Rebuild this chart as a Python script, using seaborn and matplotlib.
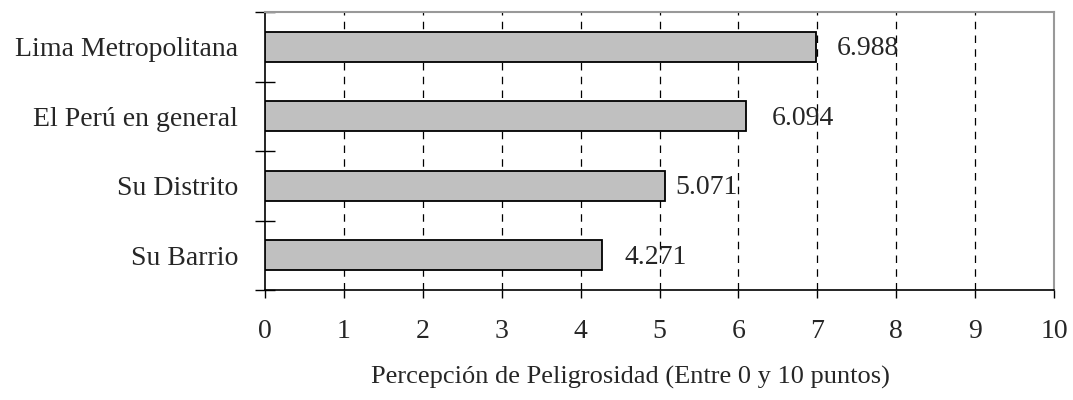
import matplotlib
matplotlib.use("Agg")
import matplotlib.pyplot as plt
import seaborn as sns
import pandas as pd
import numpy as np

categories = ["Lima Metropolitana", "El Perú en general", "Su Distrito", "Su Barrio"]
values = [6.988, 6.094, 5.071, 4.271]
value_labels = ["6.988", "6.094", "5.071", "4.271"]
label_offsets = [14.5, 19, 7, 16]  # points, style
x_ticks = list(range(0, 11))
x_label = "Percepción de Peligrosidad (Entre 0 y 10 puntos)"

sns.set_theme(style="white")
plt.rcParams["font.family"] = ["Liberation Serif", "DejaVu Serif"]
plt.rcParams["font.size"] = 20

df = pd.DataFrame({"cat": categories, "val": values})

fig = plt.figure(figsize=(10.73, 4.0), dpi=100)
ax = fig.add_axes([265/1073, 1-290/400, (1054-265)/1073, (290-12)/400])

sns.barplot(data=df, y="cat", x="val", order=categories, orient="h",
            color="#C0C0C0", edgecolor="black", linewidth=1.3, width=0.43,
            saturation=1, ax=ax, zorder=3)

ax.set_xlim(0, 10)
ax.set_ylim(3.5, -0.5)
ax.set_xticks(x_ticks)
ax.set_xticklabels([str(t) for t in x_ticks], fontsize=20)
for t in x_ticks[1:-1]:
    ax.axvline(t, color="black", linestyle=(0, (6, 5)), linewidth=0.9, zorder=1)

ax.set_yticks(range(len(categories)))
ax.set_yticklabels(categories, fontsize=20)
ax.set_yticks(np.arange(-0.5, len(categories), 1.0), minor=True)
ax.tick_params(axis="y", which="major", length=0, pad=19.4)
ax.tick_params(axis="y", which="minor", direction="inout", length=15, width=1, color="black")
ax.tick_params(axis="x", which="major", direction="out", length=6, width=1, color="black", pad=15)
ax.xaxis.set_ticks_position("bottom")
ax.yaxis.set_ticks_position("left")

ax.set_xlabel(x_label, fontsize=19)
ax.xaxis.set_label_coords((630-265)/789, (290-366)/278)
ax.set_ylabel("")

for side in ["left", "bottom"]:
    ax.spines[side].set_color("black")
    ax.spines[side].set_linewidth(1.2)
for side in ["top", "right"]:
    ax.spines[side].set_color("#999999")
    ax.spines[side].set_linewidth(1.5)
    ax.spines[side].set_visible(True)

for i, (v, lab, off) in enumerate(zip(values, value_labels, label_offsets)):
    ax.annotate(lab, xy=(v, i), xytext=(off, -1.5), textcoords="offset points",
                va="center", ha="left", fontsize=20, zorder=4)

fig.savefig("out.png", dpi=100, facecolor="white")
